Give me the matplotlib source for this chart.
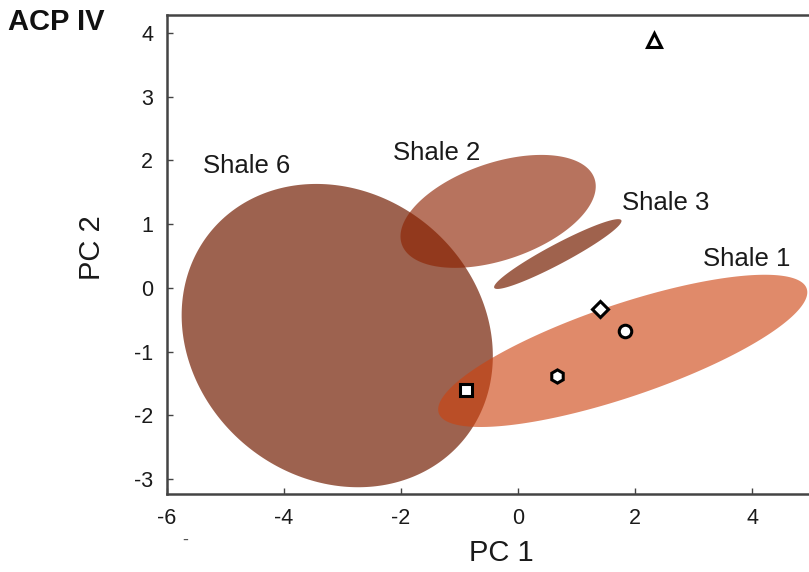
import numpy as np
import matplotlib
matplotlib.use("Agg")
import matplotlib.pyplot as plt
from matplotlib.patches import Polygon

plt.rcParams['font.family'] = ['Liberation Sans', 'DejaVu Sans']

# ---- data ----
groups = ["Shale 6", "Shale 2", "Shale 3", "Shale 1"]
ell_cx = [-3.09, -0.34, 0.68, 1.79]
ell_cy = [-0.75, 1.20, 0.53, -0.99]
ell_a = [2.80, 1.74, 1.23, 3.32]      # semi-major (PC1 units)
ell_b = [2.44, 0.83, 0.17, 0.79]      # semi-minor (PC1 units)
ell_angle = [-39.6, 18.8, 28.0, 18.7]  # degrees
ell_colors = ["#742005", "#8d2200", "#771f02", "#cd420f"]
ell_alpha = [0.70, 0.63, 0.70, 0.62]

label_x = [-5.38, -2.14, 1.78, 3.16]
label_y = [1.91, 2.12, 1.33, 0.45]

pts_x = [2.32, 1.40, 1.83, 0.67, -0.89]
pts_y = [3.89, -0.33, -0.68, -1.38, -1.60]
pts_marker = ["^", "D", "o", "h", "s"]

xticks = [-6, -4, -2, 0, 2, 4]
yticks = [-3, -2, -1, 0, 1, 2, 3, 4]

# ---- figure ----
W, H = 809, 572
fig = plt.figure(figsize=(W / 100, H / 100), dpi=100)
ax = fig.add_axes([167 / W, 78 / H, 642 / W, 479 / H])
ax.set_xlim(-6, 4.974)
ax.set_ylim(-3.237, 4.283)

# scale ratio so ellipses rotate visually
p0 = ax.transData.transform((0, 0))
p1 = ax.transData.transform((1, 1))
sx, sy = p1[0] - p0[0], p1[1] - p0[1]
k = sx / sy

t = np.linspace(0, 2 * np.pi, 300)
for cx, cy, a, b, ang, col, al in zip(ell_cx, ell_cy, ell_a, ell_b, ell_angle,
                                      ell_colors, ell_alpha):
    th = np.deg2rad(ang)
    dx = a * np.cos(t) * np.cos(th) - b * np.sin(t) * np.sin(th)
    dy = a * np.cos(t) * np.sin(th) + b * np.sin(t) * np.cos(th)
    poly = Polygon(np.column_stack([cx + dx, cy + dy * k]), closed=True,
                   facecolor=col, edgecolor="none", alpha=al, zorder=2)
    ax.add_patch(poly)

for g, lx, ly in zip(groups, label_x, label_y):
    ax.text(lx, ly, g, fontsize=18.5, ha="left", va="center", color="#1a1a1a", zorder=5)

msize = {"^": 9.5, "D": 8, "o": 9, "h": 9.5, "s": 8}
for x, y, m in zip(pts_x, pts_y, pts_marker):
    ax.plot([x], [y], linestyle="none", marker=m, markersize=msize[m],
            markerfacecolor="white", markeredgecolor="black", markeredgewidth=2.2, zorder=6)

ax.set_xticks(xticks)
ax.set_yticks(yticks)
ax.set_xticklabels([str(v) for v in xticks])
ax.set_yticklabels([str(v) for v in yticks])
ax.tick_params(direction="in", length=4, width=1, color="#444444",
               labelsize=15.5, labelcolor="#1a1a1a", pad=10)
for s in ["left", "bottom", "top"]:
    ax.spines[s].set_color("#444444")
    ax.spines[s].set_linewidth(1.8)
ax.spines["right"].set_visible(False)

ax.set_xlabel("PC 1", fontsize=21, color="#1a1a1a")
ax.set_ylabel("PC 2", fontsize=21, color="#1a1a1a")
ax.xaxis.label.set_verticalalignment("center")
ax.yaxis.label.set_verticalalignment("center")
ax.xaxis.set_label_coords(0.520, -0.123)
ax.yaxis.set_label_coords(-0.1176, 0.5146)

fig.text(8 / W, 1 - 22 / H, "ACP IV", fontsize=21, fontweight="bold",
         ha="left", va="center", color="#111111")
fig.text(185 / W, 1 - 540 / H, "-", fontsize=13, ha="center", va="center", color="#555555")

fig.savefig("out.png", dpi=100)
